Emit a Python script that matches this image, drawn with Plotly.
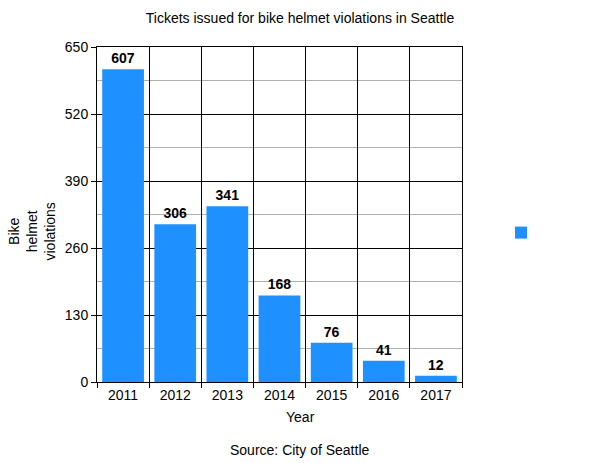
import plotly.graph_objects as go

years = ["2011", "2012", "2013", "2014", "2015", "2016", "2017"]
tickets = [607, 306, 341, 168, 76, 41, 12]
y_ticks = [0, 130, 260, 390, 520, 650]
y_title_lines = ["Bike", "helmet", "violations"]

FONT = "Liberation Sans, Arial, sans-serif"
W, H = 600, 463
L, R, T, B = 97, 138, 47, 81
pw = W - L - R
ph = H - T - B

def px_x(px):
    return (px - L) / pw

def px_y(py):
    return (H - B - py) / ph

fig = go.Figure()
fig.add_trace(go.Bar(
    x=years, y=tickets, name=" ",
    marker=dict(color="#1E90FF", line=dict(width=0)),
    text=[str(v) for v in tickets], textposition="outside",
    textfont=dict(family=FONT, size=14, color="black", weight="bold"),
    cliponaxis=False, showlegend=True,
))

annotations = [
    dict(text="Year", x=px_x(300), y=px_y(417), xref="paper", yref="paper",
         xanchor="center", yanchor="middle", showarrow=False, font=dict(size=14)),
    dict(text="Source: City of Seattle", x=px_x(300), y=px_y(450), xref="paper",
         yref="paper", xanchor="center", yanchor="middle", showarrow=False,
         font=dict(size=14)),
    dict(text="<br>".join(y_title_lines), textangle=-90, x=px_x(31.5), y=px_y(232),
         xref="paper", yref="paper", xanchor="center", yanchor="middle",
         showarrow=False, font=dict(size=14)),
]

fig.update_layout(
    width=W, height=H,
    margin=dict(l=L, r=R, t=T, b=B),
    paper_bgcolor="white", plot_bgcolor="white",
    font=dict(family=FONT, size=14, color="black"),
    bargap=0.2,
    title=dict(text="Tickets issued for bike helmet violations in Seattle",
               x=px_x(300), xref="paper", xanchor="center",
               y=(H - 18) / H, yanchor="middle", font=dict(size=14)),
    showlegend=True,
    legend=dict(x=px_x(501), y=px_y(233), xanchor="left", yanchor="middle",
                font=dict(size=14), bgcolor="rgba(0,0,0,0)"),
    xaxis=dict(
        type="category", tickson="boundaries", showgrid=True, gridcolor="black", gridwidth=1,
        ticks="outside", ticklen=5, tickcolor="black", showline=True, linecolor="black",
        linewidth=1, mirror=True, tickfont=dict(size=14), range=[-0.5, 6.5],
    ),
    yaxis=dict(
        range=[0, 650], tickvals=y_ticks, showgrid=True, gridcolor="black", gridwidth=1,
        ticks="outside", ticklen=5, tickcolor="black", showline=True, linecolor="black",
        linewidth=1, mirror=True, zeroline=False, tickfont=dict(size=14),
        minor=dict(dtick=65, showgrid=True, gridcolor="#b0b0b0", gridwidth=1, ticks=""),
    ),
    annotations=annotations,
)

fig.write_html("out.html", config={"displayModeBar": False},
               post_script="document.body.style.margin='0';document.body.style.padding='0';")
